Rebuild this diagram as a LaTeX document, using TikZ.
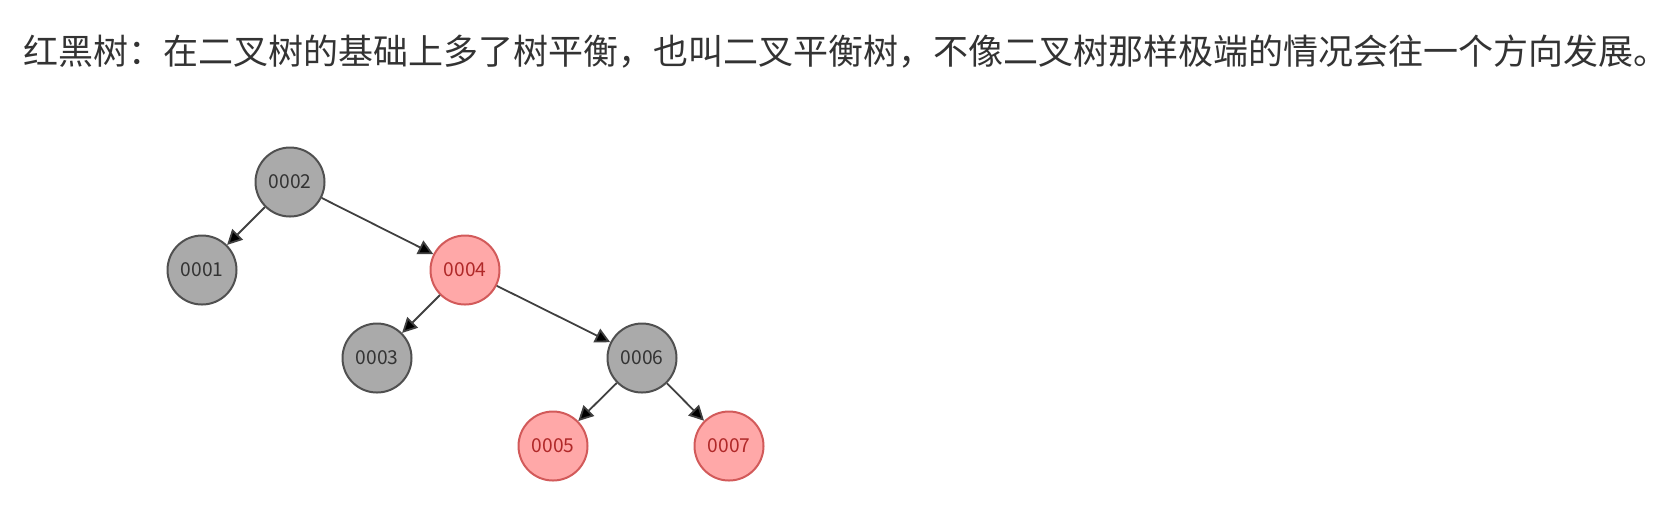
\documentclass[tikz,border=0pt]{standalone}
\usepackage{fontspec}
\setmainfont{Noto Sans CJK SC}
\usetikzlibrary{arrows.meta}
\definecolor{titlegray}{HTML}{333333}
\definecolor{nodegray}{HTML}{AAAAAA}
\definecolor{bordergray}{HTML}{505050}
\definecolor{nodered}{HTML}{FFA8A8}
\definecolor{borderred}{HTML}{D25A5A}
\definecolor{textred}{HTML}{B02828}
\definecolor{edgegray}{HTML}{404040}
\tikzset{
    blacknode/.style={circle, draw=bordergray, fill=nodegray, line width=1pt,
        minimum size=34.5pt, inner sep=0pt, text=black!80, font=\fontsize{9.6}{9.6}\selectfont},
    rednode/.style={blacknode, draw=borderred, fill=nodered, text=textred},
    edge/.style={draw=edgegray, line width=0.9pt, -{Triangle[length=7.5pt,width=7.5pt,fill=black]}}
}
\begin{document}
\begin{tikzpicture}[x=0.5pt, y=-0.5pt]
% ========= 画布 =========
\useasboundingbox (0,0) rectangle (1675,511);

% ========= 标题文字 =========
\node[anchor=west, inner sep=0pt, text=titlegray, font=\fontsize{17.5}{17.5}\selectfont] (title) at (23,52)
    {红黑树：在二叉树的基础上多了树平衡，也叫二叉平衡树，不像二叉树那样极端的情况会往一个方向发展。};

% ========= 结点 =========
\node[blacknode] (n2) at (290,182) {0002};
\node[blacknode] (n1) at (202,270) {0001};
\node[rednode]   (n4) at (465,270) {0004};
\node[blacknode] (n3) at (377,358) {0003};
\node[blacknode] (n6) at (642,358) {0006};
\node[rednode]   (n5) at (553,446) {0005};
\node[rednode]   (n7) at (729,446) {0007};

% ========= 连线 =========
\draw[edge] (n2) -- (n1);
\draw[edge] (n2) -- (n4);
\draw[edge] (n4) -- (n3);
\draw[edge] (n4) -- (n6);
\draw[edge] (n6) -- (n5);
\draw[edge] (n6) -- (n7);
\end{tikzpicture}
\end{document}
